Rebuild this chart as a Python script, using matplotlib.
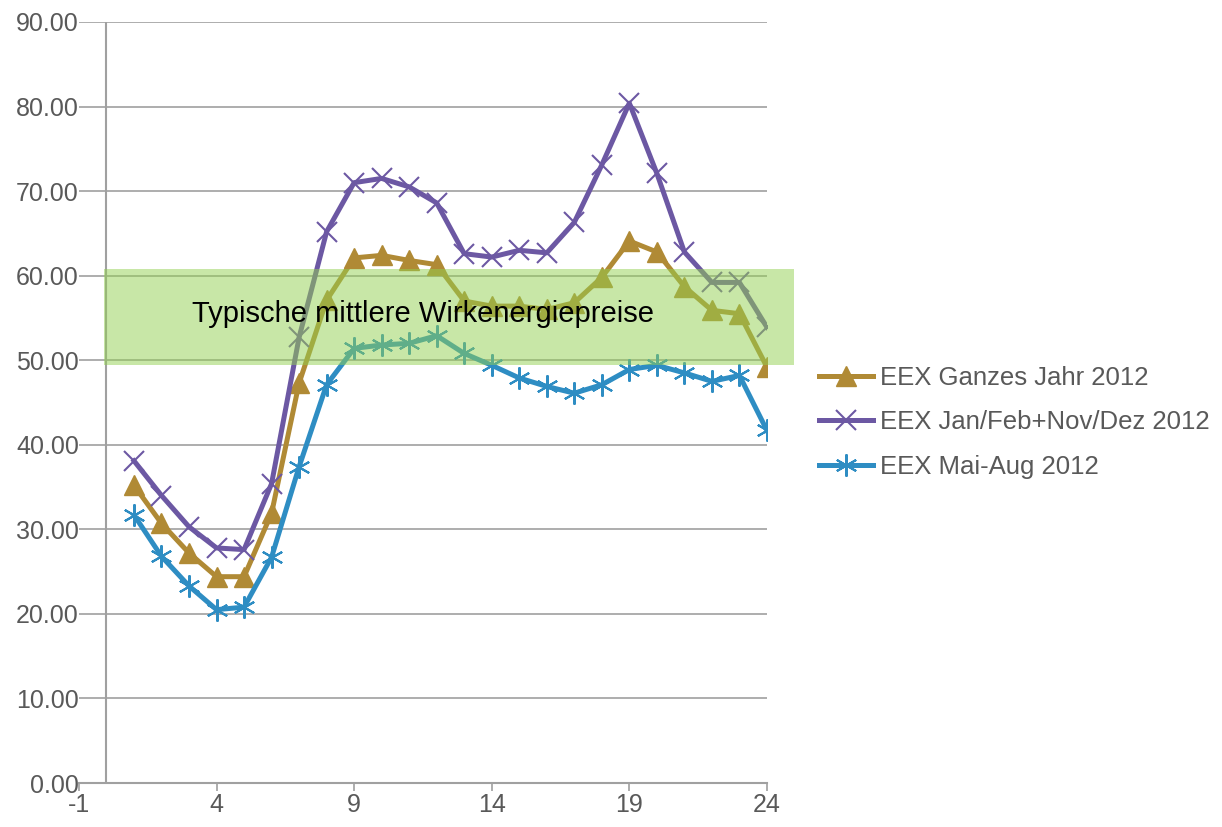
import numpy as np
import matplotlib.pyplot as plt

plt.rcParams['font.family'] = ['Liberation Sans', 'DejaVu Sans']
plt.rcParams['axes.unicode_minus'] = False

# hours of the day
hours = list(range(1, 25))

# EEX prices per hour (EUR/MWh)
ganzes_jahr = [35.2, 30.7, 27.2, 24.4, 24.4, 31.9, 47.3, 57.1, 62.1, 62.4, 61.8, 61.3,
               57.0, 56.4, 56.4, 56.0, 56.8, 59.8, 64.1, 62.8, 58.7, 55.9, 55.5, 49.2]
winter = [38.1, 34.0, 30.3, 27.8, 27.6, 35.4, 52.7, 65.2, 71.0, 71.5, 70.5, 68.6,
          62.6, 62.2, 63.0, 62.7, 66.3, 73.1, 80.4, 72.1, 62.8, 59.2, 59.2, 53.9]
sommer = [31.7, 26.8, 23.3, 20.5, 20.8, 26.7, 37.4, 47.1, 51.4, 51.8, 52.0, 52.9,
          50.8, 49.4, 47.9, 46.9, 46.1, 47.1, 48.9, 49.4, 48.5, 47.5, 48.2, 41.7]

labels = ['EEX Ganzes Jahr 2012', 'EEX Jan/Feb+Nov/Dez 2012', 'EEX Mai-Aug 2012']
colors = ['#b08a35', '#6c58a3', '#2e8dc3']

# typical band
band_low, band_high = 49.4, 60.8
band_text = 'Typische mittlere Wirkenergiepreise'

x_ticks = [-1, 4, 9, 14, 19, 24]
y_ticks = np.arange(0, 91, 10)

fig = plt.figure(figsize=(12.22, 8.27), dpi=100)
ax = fig.add_axes([0.0646, 0.0532, 0.5630, 0.9202])

grey = '#a0a0a0'
txt = '#595959'

ax.plot(hours, ganzes_jahr, color=colors[0], lw=3.6, marker='^', ms=14,
        label=labels[0], zorder=3)
ax.plot(hours, winter, color=colors[1], lw=3.6, marker='x', ms=15, mew=1.5,
        label=labels[1], zorder=3)
ax.plot(hours, sommer, color=colors[2], lw=3.6, marker=(6, 2, 0), ms=16, mew=1.5,
        label=labels[2], zorder=3)

# green band over the lines
ax.fill_between([-0.1, 25.0], band_low, band_high, color='#92d050', alpha=0.5,
                lw=0, zorder=4, clip_on=False)
ax.text(11.5, 55.5, band_text, ha='center', va='center', fontsize=21,
        color='black', zorder=5)

ax.set_xlim(-1, 24)
ax.set_ylim(0, 90)
ax.set_xticks(x_ticks)
ax.set_yticks(y_ticks)
ax.set_yticklabels(['%.2f' % v for v in y_ticks])

ax.yaxis.grid(True, color=grey, lw=1.2)
ax.set_axisbelow(True)
ax.axvline(0, color=grey, lw=1.5, zorder=2)

for s in ['top', 'right', 'left']:
    ax.spines[s].set_visible(False)
ax.spines['bottom'].set_color(grey)
ax.spines['bottom'].set_linewidth(1.5)

ax.tick_params(axis='y', length=0, pad=0, labelsize=18, labelcolor=txt)
ax.tick_params(axis='x', length=6, width=1.2, color=grey, pad=1,
               labelsize=18, labelcolor=txt)

leg = ax.legend(loc='upper left', bbox_to_anchor=(0.670, 0.558),
                bbox_transform=fig.transFigure, frameon=False, fontsize=18.5,
                handlelength=2.1, handletextpad=0.3, labelspacing=0.8,
                borderpad=0, borderaxespad=0)
for t in leg.get_texts():
    t.set_color(txt)

fig.savefig('out.png', dpi=100)
